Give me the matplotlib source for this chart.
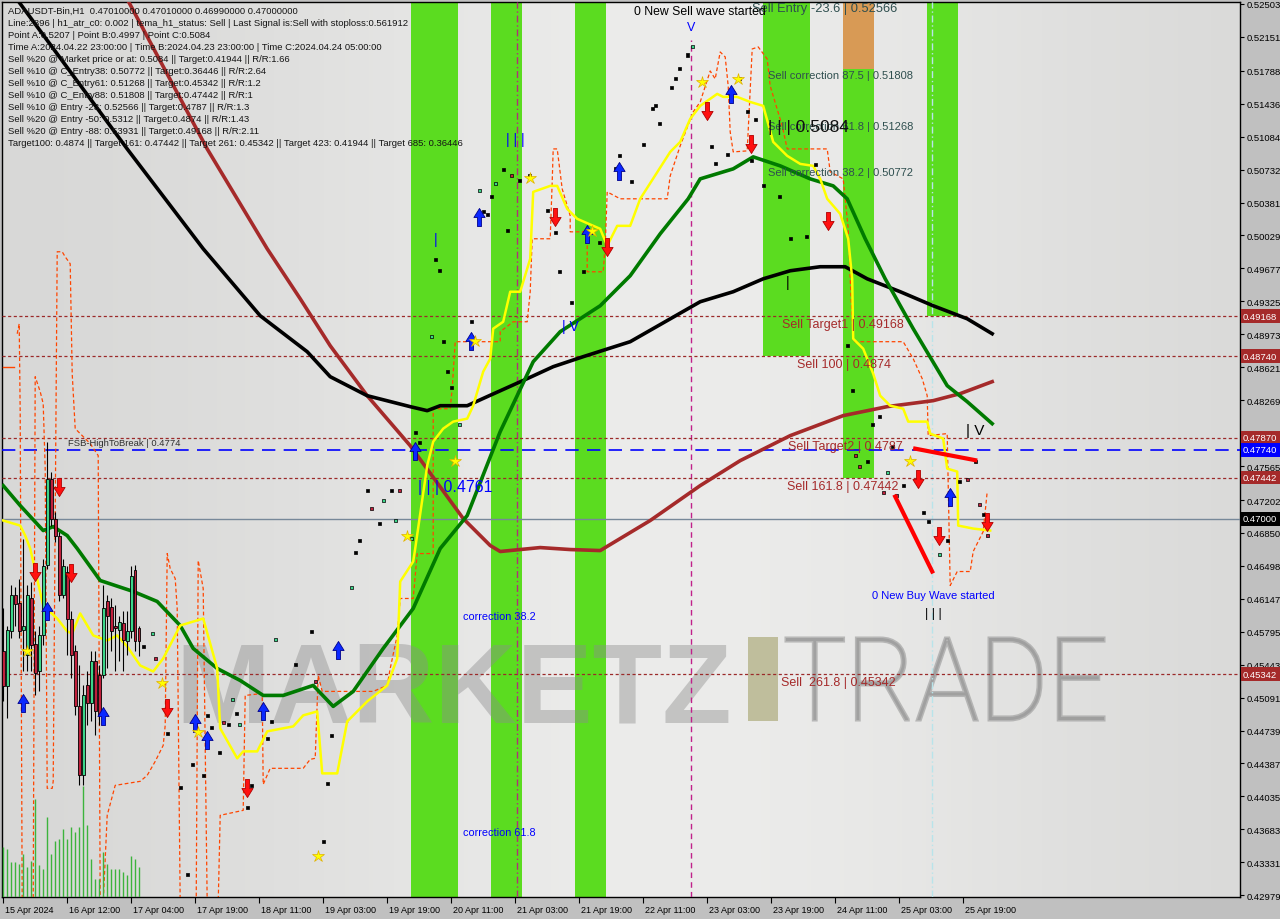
import numpy as np
import matplotlib
matplotlib.use('Agg')
import matplotlib.pyplot as plt
import matplotlib.transforms as mtransforms
from matplotlib.path import Path
from matplotlib.patches import Rectangle, PathPatch
from matplotlib.textpath import TextPath
from matplotlib.font_manager import FontProperties

plt.rcParams['font.family'] = ['Liberation Sans', 'DejaVu Sans']

# ---------------- data (bar index = hours since 15 Apr 20:00) ----------------
black_x = [0, 3.75, 31, 50, 64.25, 76, 81.75, 91, 101.75, 106, 109.25, 116, 121, 131, 137.5, 145,
           156.75, 174.25, 182.5, 190, 196.75, 204.25, 210.5, 216, 224.25, 232.5, 241, 247.25]
black_p = [.52748, .52535, .50954, .49887, .49171, .48787, .48520, .48317, .48200, .48157, .48210,
           .48210, .48307, .48499, .48627, .48734, .48894, .49321, .49428, .49566, .49652, .49695,
           .49695, .49566, .49428, .49278, .49139, .48979]

brown_x = [24.25, 31.25, 51, 66, 74.25, 81.75, 91, 101.75, 115, 121.75, 124.25, 134.25, 141.75,
           149.25, 161.75, 174.25, 184.25, 196.75, 210, 221, 232.5, 239.25, 247.25]
brown_p = [.53090, .52535, .50954, .49887, .49353, .48851, .48317, .47783, .47004, .46716, .46652,
           .46694, .46673, .46662, .46983, .47356, .47623, .47890, .48104, .48200, .48264, .48339, .48467]

green_x = [0, 4.25, 10, 12.5, 16, 18.5, 24.25, 32.5, 38.5, 44.25, 47.5, 53.5, 59.25, 65, 70, 77.5,
           82.5, 87.5, 95, 102.5, 109.25, 116, 124.25, 132.5, 139.25, 149.25, 156.75, 164.25, 171.25,
           174.25, 182.5, 187.5, 194.25, 201.75, 207.5, 211, 215.5, 220.5, 227.5, 236, 241, 247.25]
green_p = [.47356, .47143, .46876, .46918, .46822, .46684, .46342, .46225, .46118, .45861, .45616,
           .45402, .45274, .45114, .45114, .45221, .44997, .45157, .45616, .46043, .46684, .47036,
           .47933, .48680, .49001, .49278, .49599, .50047, .50421, .50634, .50741, .50869, .50773,
           .50634, .50559, .50421, .49994, .49566, .49033, .48424, .48253, .48018]

yellow_x = [0, 4.25, 5.5, 6.75, 10, 13.5, 16, 17.25, 19.25, 22.5, 26, 28.5, 31, 34.25, 37.5, 40,
            44.25, 50, 53.5, 54.25, 58.5, 60, 63.5, 66, 72.5, 75, 78.5, 79.75, 83.5, 86, 91, 96,
            98.5, 99.25, 102.5, 103, 106, 107.5, 110, 112.5, 116, 117.5, 120, 121.75, 122.5, 125,
            126.75, 129.25, 131.75, 132.5, 136.75, 138.5, 141, 143.5, 149.25, 151, 153.5, 156.75,
            159.25, 166.75, 169.25, 171.75, 174.25, 178.5, 180, 183.5, 186.75, 190, 192.5, 196,
            199.25, 202.5, 204.25, 206, 209.25, 211.25, 212.25, 212.5, 215, 217.5, 219.25, 221.75,
            225, 226.25, 231, 231.75, 235, 236, 238.5, 238.75, 242.5, 246.75]
yellow_p = [.46983, .46929, .46822, .46684, .46075, .45936, .45798, .45776, .45990, .45755, .45701,
            .45755, .45637, .45434, .45370, .45509, .45861, .45936, .45402, .44762, .44442, .44516,
            .44516, .44730, .44783, .44901, .44943, .44281, .44281, .44836, .45050, .45221, .45509,
            .46331, .46545, .46684, .47570, .47826, .47965, .48040, .48072, .48210, .48574, .48712,
            .49033, .49107, .49428, .49428, .49780, .50495, .50559, .50559, .50314, .50207, .50100,
            .49919, .50132, .50132, .50421, .50922, .51029, .51275, .51414, .51542, .51510, .51510,
            .51456, .51414, .51029, .50880, .50794, .50773, .50634, .50421, .50260, .49994, .49566,
            .48926, .48819, .48552, .48317, .48210, .48178, .48040, .48040, .47912, .47858, .47538,
            .47506, .46929, .46897, .46876]

stop_x = [3.5, 4, 4.25, 4.75, 7.5, 8, 9.25, 10, 10.5, 11, 12.25, 12.5, 13.5, 14.75, 15.5, 16.75,
          17.25, 18, 21.75, 23.75, 24.25, 25, 26, 28, 34.25, 36, 38, 40, 40.5, 41, 41.75, 43, 43.5,
          44.25, 48.25, 48.75, 50, 51, 53.75, 54.25, 60, 60.5, 64.75, 65, 66.75, 75, 76.75, 78,
          78.75, 79.75, 92.5, 96, 96.75, 98.5, 99.25, 102.5, 103.5, 107.5, 107.5, 111.75, 112.25,
          113, 124.25, 124.25, 127.5, 131, 131.75, 132.25, 136.75, 137.25, 137.5, 138.5, 139.75,
          141.75, 141.75, 146, 146, 150, 150.5, 151, 154.25, 166, 166.75, 169.25, 172.5, 174.25,
          176.75, 178, 179.25, 180.5, 181.25, 181.75, 182.5, 186, 187.25, 188.75, 191, 191.75,
          194.75, 196, 206, 206.75, 210, 210.5, 211.25, 211.75, 212.5, 225, 227.5, 229.75, 231,
          231.25, 236, 236.75, 238.5, 241.75, 242.5, 245, 246]
stop_p = [.48979, .49086, .48125, .42893, .42893, .48520, .48360, .48232, .47538, .44121, .44121,
          .44196, .49855, .49855, .49801, .49727, .48552, .47965, .47805, .47677, .42893, .42893,
          .43833, .44153, .44196, .44260, .44409, .44580, .44794, .46630, .46470, .46363, .46043,
          .42893, .42893, .46556, .46257, .42893, .42893, .43833, .43886, .45114, .45135, .44164,
          .44335, .44335, .44431, .44442, .45328, .45157, .45157, .45221, .45402, .45755, .46150,
          .46150, .46630, .46630, .48178, .48178, .48392, .48894, .48894, .49001, .49107, .49107,
          .49428, .49994, .49994, .50602, .50954, .50954, .50527, .50239, .50068, .50068, .49641,
          .49641, .49919, .50495, .50421, .50421, .50666, .50987, .51350, .51456, .51787, .51702,
          .51990, .51937, .51627, .51136, .50922, .50933, .52022, .52044, .51915, .51627, .51200,
          .50954, .50954, .50709, .50634, .50421, .50100, .49566, .48894, .48894, .48712, .48499,
          .48317, .47890, .47912, .46289, .46438, .46438, .46652, .46865, .47292]

# first 35 bars: full candles
cndl_open = [.45584, .45210, .45798, .46182, .46107, .45808, .45541, .46160, .45659, .45370, .45755,
             .46513, .47431, .47004, .46822, .46182, .46438, .45936, .45584, .44997, .44260, .45221,
             .45029, .45477, .45328, .45328, .46118, .46064, .45851, .45808, .45883, .45691, .45798,
             .46449, .45830]
cndl_close = [.45210, .45808, .46182, .46096, .45798, .45851, .46182, .45648, .45349, .45755, .46502,
              .47431, .47004, .46822, .46182, .46502, .45936, .45541, .44997, .44260, .45114, .45029,
              .45477, .44943, .44901, .46043, .45958, .45798, .45830, .45904, .45701, .45798, .46395,
              .45691, .45691]
cndl_high = [.46043, .45861, .46289, .46278, .46363, .46790, .46289, .46331, .45798, .45861, .46577,
             .47826, .47506, .47079, .46865, .46577, .46502, .46011, .45648, .45434, .45221, .45370,
             .45584, .45584, .45434, .46289, .46182, .46150, .46075, .45968, .46011, .46011, .46502,
             .46513, .45861]
cndl_low = [.45050, .44869, .45723, .45861, .45723, .45370, .45370, .45370, .45114, .45157, .45648,
            .46470, .46929, .46758, .46118, .46150, .45541, .45296, .44901, .44153, .44153, .44794,
            .44836, .44687, .44794, .45296, .45402, .45584, .45370, .45477, .45370, .45541, .45723,
            .45584, .45531]
volume = [50, 48, 35, 35, 33, 43, 30, 36, 98, 32, 28, 80, 43, 56, 58, 68, 58, 70, 65, 70, 111, 72,
          38, 18, 18, 45, 33, 28, 28, 28, 25, 22, 41, 38, 30]

# later bars: tiny candles
dot_x = [35, 37.25, 38, 41, 44.25, 46, 47.25, 50, 51, 52, 54, 55, 56.25, 57.25, 58.25, 59, 61, 62,
         66, 67, 68, 73, 77, 78, 80, 81, 82, 87, 88, 89, 91, 92, 94, 95, 97, 98, 99, 102, 103, 104,
         107, 108, 109, 110, 111, 112, 114, 117, 119, 120, 121, 122, 123, 125, 126, 127, 129, 131.5,
         136, 138, 139, 142, 145, 149, 153, 154, 157, 160, 162.25, 163, 164, 167, 168, 169, 171,
         172.25, 177, 178, 181, 184, 186, 187, 188, 190, 194, 196.75, 200.75, 203, 206.25, 211,
         212.25, 213, 214, 216, 217.25, 219, 221, 220, 222.25, 223.25, 225, 230, 231.25, 234, 236,
         239, 241, 243, 244, 245, 246]
dot_p = [.45637, .45776, .45509, .44708, .44132, .43203, .44378, .44260, .44901, .44773, .44506,
         .44826, .44804, .45071, .44922, .44804, .43918, .44153, .44655, .44836, .45712, .45445,
         .45798, .45264, .43555, .44175, .44687, .46267, .46641, .46769, .47303, .47111, .46951,
         .47196, .47303, .46983, .47303, .46790, .47922, .47815, .48947, .49769, .49652, .48894,
         .48574, .48403, .48008, .49107, .50506, .50282, .50250, .50442, .50581, .50730, .50079,
         .50666, .50613, .50666, .50293, .50058, .49641, .49310, .49641, .49951, .50741, .50880,
         .50602, .50997, .51382, .51414, .51221, .51606, .51702, .51809, .51958, .52044, .50976,
         .50794, .50890, .51702, .51350, .50826, .51264, .50559, .50442, .49994, .50015, .50784,
         .50132, .48851, .48371, .47677, .47559, .47613, .48008, .48093, .47495, .47281, .47773,
         .47250, .47356, .47068, .46972, .46620, .46769, .47399, .47420, .47613, .47153, .47047,
         .46822]
dot_c = ['k', 'g', 'r', 'k', 'k', 'k', 'k', 'k', 'k', 'k', 'k', 'r', 'k', 'g', 'k', 'g', 'k', 'k',
         'k', 'k', 'g', 'k', 'k', 'r', 'k', 'k', 'k', 'g', 'k', 'k', 'k', 'r', 'k', 'g', 'k', 'g',
         'r', 'g', 'k', 'k', 'g', 'k', 'k', 'k', 'k', 'k', 'g', 'k', 'g', 'k', 'k', 'k', 'g', 'k',
         'k', 'r', 'k', 'k', 'k', 'k', 'k', 'k', 'k', 'k', 'k', 'k', 'k', 'k', 'k', 'k', 'k', 'k',
         'k', 'k', 'k', 'g', 'k', 'k', 'k', 'k', 'k', 'k', 'k', 'k', 'k', 'k', 'k', 'k', 'k', 'k',
         'k', 'r', 'r', 'k', 'k', 'k', 'g', 'r', 'k', 'r', 'k', 'k', 'k', 'g', 'k', 'k', 'r', 'k',
         'r', 'k', 'r']

buy_x = [4.9, 11, 25, 48, 51, 65, 83.75, 103, 117, 119, 146, 154, 182, 236.75]
buy_p = [.45029, .46011, .44890, .44815, .44633, .44943, .45595, .47730, .48905, .50229, .50047,
         .50720, .51542, .47239]
sell_x = [8, 14, 17, 41, 61, 138, 151, 176, 187, 206.25, 228.75, 234, 246]
sell_p = [.46438, .47346, .46417, .44975, .44121, .50229, .49908, .51360, .51008, .50186, .47431,
          .46822, .46972]
star_x = [6, 39.75, 48.75, 78.75, 101, 113, 118, 131.75, 147.25, 174.75, 183.75, 226.75]
star_p = [.45584, .45242, .44719, .43395, .46822, .47623, .48905, .50645, .50079, .51670, .51702,
          .47623]

# levels
sell_levels = [0.49168, 0.48740, 0.47870, 0.47442, 0.45342]
sell_texts = ['Sell Target1 | 0.49168', 'Sell 100 | 0.4874', 'Sell Target2 | 0.4787',
              'Sell 161.8 | 0.47442', 'Sell  261.8 | 0.45342']
sell_text_x = [194.7, 198.4, 196.2, 196, 194.4]
fsb_level = 0.4774
last_price = 0.47000
corr_levels = [0.52566, 0.51808, 0.51268, 0.50772]
corr_texts = ['Sell Entry -23.6 | 0.52566', 'Sell correction 87.5 | 0.51808',
              'Sell correction 61.8 | 0.51268', 'Sell correction 38.2 | 0.50772']

# zones (start bar, end bar, low price, high price)
green_zones = [(101.9, 113.7, 0.40, 0.60), (121.9, 129.7, 0.40, 0.60), (142.9, 150.7, 0.40, 0.60),
               (189.9, 201.7, 0.48740, 0.60), (209.9, 217.7, 0.47442, 0.51808),
               (230.9, 238.7, 0.49168, 0.60)]
orange_zone = (209.9, 217.7, 0.51808, 0.60)

ytick_vals = [0.52503, 0.52151, 0.51788, 0.51436, 0.51084, 0.50732, 0.50381, 0.50029, 0.49677,
              0.49325, 0.48973, 0.48621, 0.48269, 0.47565, 0.47202, 0.46850, 0.46498, 0.46147,
              0.45795, 0.45443, 0.45091, 0.44739, 0.44387, 0.44035, 0.43683, 0.43331, 0.42979]
xtick_bars = [0, 16, 32, 48, 64, 80, 96, 112, 128, 144, 160, 176, 192, 208, 224, 240]
xtick_labels = ['15 Apr 2024', '16 Apr 12:00', '17 Apr 04:00', '17 Apr 19:00', '18 Apr 11:00',
                '19 Apr 03:00', '19 Apr 19:00', '20 Apr 11:00', '21 Apr 03:00', '21 Apr 19:00',
                '22 Apr 11:00', '23 Apr 03:00', '23 Apr 19:00', '24 Apr 11:00', '25 Apr 03:00',
                '25 Apr 19:00']

info_lines = [
    'ADAUSDT-Bin,H1  0.47010000 0.47010000 0.46990000 0.47000000',
    'Line:2896 | h1_atr_c0: 0.002 | tema_h1_status: Sell | Last Signal is:Sell with stoploss:0.561912',
    'Point A:0.5207 | Point B:0.4997 | Point C:0.5084',
    'Time A:2024.04.22 23:00:00 | Time B:2024.04.23 23:00:00 | Time C:2024.04.24 05:00:00',
    'Sell %20 @ Market price or at: 0.5084 || Target:0.41944 || R/R:1.66',
    'Sell %10 @ C_Entry38: 0.50772 || Target:0.36446 || R/R:2.64',
    'Sell %10 @ C_Entry61: 0.51268 || Target:0.45342 || R/R:1.2',
    'Sell %10 @ C_Entry88: 0.51808 || Target:0.47442 || R/R:1',
    'Sell %10 @ Entry -23: 0.52566 || Target:0.4787 || R/R:1.3',
    'Sell %20 @ Entry -50: 0.5312 || Target:0.4874 || R/R:1.43',
    'Sell %20 @ Entry -88: 0.53931 || Target:0.49168 || R/R:2.11',
    'Target100: 0.4874 || Target 161: 0.47442 || Target 261: 0.45342 || Target 423: 0.41944 || Target 685: 0.36446',
]

# ---------------- figure ----------------
W, H = 1280, 920
fig = plt.figure(figsize=(W / 100, H / 100), dpi=100, facecolor='#c0c0c0')
ax = fig.add_axes([2 / W, 1 - 898 / H, 1238 / W, 895 / H])
ax.set_xlim(-0.3, 309.2)
ax.set_ylim(0.42960, 0.52524)

# background gradient
g = np.linspace(0, 1, 300)
shade = 0.84 + 0.085 * np.exp(-((g - 0.55) / 0.35) ** 2)
bg = np.dstack([shade, shade, shade * 0.995])
ax.imshow(bg, extent=[0, 1, 0, 1], transform=ax.transAxes, aspect='auto', zorder=0)

for x0, x1, lo, hi in green_zones:
    ax.fill_between([x0, x1], lo, hi, color='#5bdc20', lw=0, zorder=1)
ax.fill_between([orange_zone[0], orange_zone[1]], orange_zone[2], orange_zone[3],
                color='#d89a55', lw=0, zorder=1)

# watermark
ax.text(0.1397, 0.1966, 'MARKETZ', transform=ax.transAxes, fontsize=82, fontweight='bold',
        color='#8c8c8c', alpha=0.42, va='baseline', ha='left', zorder=2)
ax.add_patch(Rectangle((0.6026, 0.1966), 0.0242, 0.094, transform=ax.transAxes,
                       color='#b8b68f', alpha=0.85, lw=0, zorder=2))
tp = TextPath((0, 0), 'TRADE', size=100, prop=FontProperties(family='Roboto', weight='light'))
ext = tp.get_extents()
sx = 318 / ext.width
sy = 82 / ext.height
trade_tr = mtransforms.Affine2D().translate(-ext.x0, -ext.y0).scale(sx, sy).translate(786, H - 721)
ax.add_patch(PathPatch(tp, transform=trade_tr, fc='#8f8f8f', ec='#8f8f8f', lw=2.2, alpha=0.55,
                       zorder=2))

# vertical markers
ax.axvline(128.4, color='#b0307a', lw=1, ls=(0, (5, 2, 1, 2)), zorder=3)
ax.plot([172, 172], [0.42960, 0.5212], color='#c0208a', lw=1, ls=(0, (4, 3)), zorder=3)
ax.axvline(232.2, color='#b8e4ea', lw=1, ls=(0, (5, 2, 1, 2)), zorder=3)

# horizontal levels
for lv in sell_levels:
    ax.axhline(lv, color='#9b2a2a', lw=0.9, ls=(0, (2.5, 2)), zorder=3)
ax.axhline(fsb_level, color='#0000ff', lw=1.2, ls=(0, (8, 5)), zorder=3)
ax.axhline(last_price, color='#778899', lw=1, zorder=3)

# volume
vax = ax.twinx()
vax.set_ylim(0, 895)
vax.set_axis_off()
vax.vlines(range(len(volume)), 0, volume, color='#3cb43c', lw=1)

# stop line
ax.plot([0, 2.75], [0.48627, 0.48627], color='#ff4500', lw=1, zorder=4)
ax.plot(stop_x, stop_p, color='#ff4500', lw=0.9, ls=(0, (3, 2)), zorder=4)

# moving averages
ax.plot(brown_x, brown_p, color='#a52a2a', lw=2.6, zorder=5)
ax.plot(black_x, black_p, color='#000000', lw=2.6, zorder=5)
ax.plot(green_x, green_p, color='#007a00', lw=2.6, zorder=5)
ax.plot(yellow_x, yellow_p, color='#ffff00', lw=1.8, zorder=5)

# candles
cx = np.arange(len(cndl_open))
ax.vlines(cx, cndl_low, cndl_high, color='black', lw=0.8, zorder=6)
for i in cx:
    o, c = cndl_open[i], cndl_close[i]
    fc = '#3cd68a' if c >= o else '#c0203c'
    ax.bar(i, max(abs(c - o), 0.00008), bottom=min(o, c), width=0.65, color=fc,
           edgecolor='black', lw=0.6, zorder=7)
cmap = {'k': 'black', 'g': '#3cd68a', 'r': '#c0203c'}
ax.scatter(dot_x, dot_p, s=5, marker='s', c=[cmap[c] for c in dot_c], edgecolors='black',
           linewidths=0.5, zorder=7)

# signal arrows
up = Path([(-0.22, -1), (0.22, -1), (0.22, 0.0), (0.62, 0.0), (0, 1), (-0.62, 0.0),
           (-0.22, 0.0), (-0.22, -1)], closed=True)
dn = Path([(-0.22, 1), (0.22, 1), (0.22, 0.0), (0.62, 0.0), (0, -1), (-0.62, 0.0),
           (-0.22, 0.0), (-0.22, 1)], closed=True)
ax.plot(buy_x, buy_p, ls='none', marker=up, ms=13, mfc='#0a28ff', mec='#00008b', mew=0.6, zorder=8)
ax.plot(sell_x, sell_p, ls='none', marker=dn, ms=13, mfc='#ff1010', mec='#b00000', mew=0.6, zorder=8)
ax.plot(star_x, star_p, ls='none', marker='*', ms=9, mfc='#ffff00', mec='#e0b000', mew=0.5, zorder=8)

# red trend segments
ax.plot([228, 243], [0.47751, 0.47628], color='#ff0000', lw=3, zorder=8)
ax.plot([223, 232.25], [0.47239, 0.46438], color='#ff0000', lw=3, zorder=8)

# level labels
for lv, txt, tx in zip(sell_levels, sell_texts, sell_text_x):
    ax.annotate(txt, (tx, lv), xytext=(0, -1.5), textcoords='offset points', va='top',
                ha='left', fontsize=9, color='#a52a2a', zorder=9)
ax.annotate('FSB-HighToBreak | 0.4774', (16.2, fsb_level), xytext=(0, 2),
            textcoords='offset points', va='bottom', ha='left', fontsize=6.8, color='#303030',
            zorder=9)
for k, (lv, txt) in enumerate(zip(corr_levels, corr_texts)):
    ax.annotate(txt, (187.2 if k == 0 else 191.2, lv), xytext=(0, -3 if k == 0 else -1),
                textcoords='offset points', va='top', ha='left', fontsize=9.3 if k == 0 else 8,
                color='#2f4f4f', zorder=9, annotation_clip=False)
ax.text(191.2, 0.51190, '| | | 0.5084', fontsize=12.5, color='#101010', va='center', ha='left', zorder=9)
ax.text(157.7, 0.52428, '0 New Sell wave started', fontsize=8.8, color='black', va='center', zorder=9)
ax.text(172, 0.52257, 'V', fontsize=9, color='#0000ff', va='center', ha='center', zorder=9)
ax.text(217.2, 0.46182, '0 New Buy Wave started', fontsize=8, color='#0000ff', va='center', zorder=9)
ax.text(232.5, 0.45990, '| | |', fontsize=9, color='black', va='center', ha='center', zorder=9)
ax.text(243, 0.47954, '| V', fontsize=11, color='black', va='center', ha='center', zorder=9)
ax.text(103.7, 0.47346, '| | | 0.4761', fontsize=11.5, color='#0000ff', va='center', zorder=9)
ax.text(141.7, 0.49065, '| V', fontsize=10, color='#0000ff', va='center', ha='center', zorder=9)
ax.text(128, 0.51061, '| | |', fontsize=10, color='#0000ff', va='center', ha='center', zorder=9)
ax.text(108, 0.49994, '|', fontsize=10, color='#0000ff', va='center', ha='center', zorder=9)
ax.text(196.2, 0.49534, '|', fontsize=10, color='black', va='center', ha='center', zorder=9)
ax.text(114.9, 0.45958, 'correction 38.2', fontsize=7.8, color='#0000ff', va='center', zorder=9)
ax.text(114.9, 0.43651, 'correction 61.8', fontsize=7.8, color='#0000ff', va='center', zorder=9)

# info block
for k, line in enumerate(info_lines):
    fig.text(8 / W, 1 - (11 + 12 * k) / H, line, fontsize=6.8, color='#141414', va='center',
             ha='left', zorder=10)

# axes styling
for s in ax.spines.values():
    s.set_color('black')
    s.set_linewidth(1)
ax.yaxis.tick_right()
ax.set_yticks(ytick_vals)
ax.set_yticklabels(['%.5f' % v for v in ytick_vals])
ax.tick_params(axis='y', length=3, pad=2, labelsize=6.8, colors='black')
ax.set_xticks(xtick_bars)
ax.set_xticklabels(xtick_labels, ha='left')
ax.tick_params(axis='x', length=4, pad=1.5, labelsize=6.5, colors='black')
offset = mtransforms.ScaledTranslation(2 / 100, 0, fig.dpi_scale_trans)
for lab in ax.get_xticklabels():
    lab.set_transform(lab.get_transform() + offset)

# highlighted price labels on the axis
tr = mtransforms.blended_transform_factory(ax.transAxes, ax.transData)
tags = [(0.49168, '#a52a2a'), (0.48740, '#a52a2a'), (0.47870, '#a52a2a'), (0.47740, '#0000ff'),
        (0.47442, '#a52a2a'), (0.47000, '#000000'), (0.45342, '#a52a2a')]
for v, col in tags:
    ax.text(1.0025, v, '%.5f' % v, transform=tr, fontsize=6.8, color='white', va='center',
            ha='left', clip_on=False, zorder=11,
            bbox=dict(boxstyle='square,pad=0.25', fc=col, ec='none'))

fig.savefig('out.png', dpi=100, facecolor=fig.get_facecolor())
